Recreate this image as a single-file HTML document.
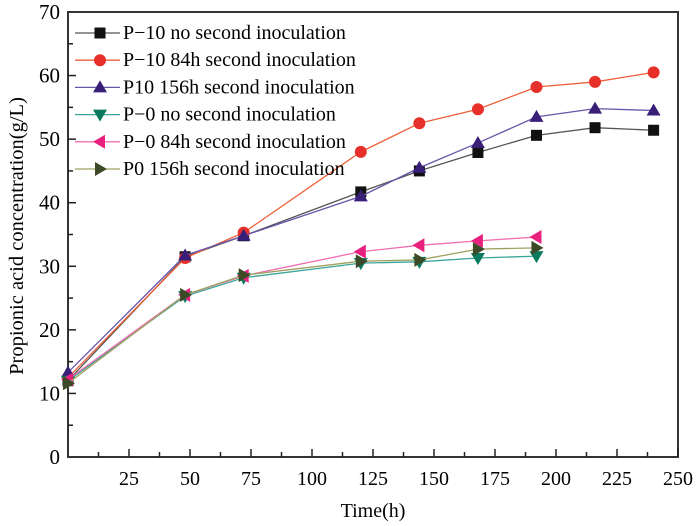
<!DOCTYPE html>
<html><head><meta charset="utf-8"><style>
body{margin:0;background:#fff}
svg{display:block;font-family:"Liberation Serif",serif}
</style></head><body>
<svg id="chart" width="700" height="526" viewBox="0 0 700 526">
<g id="axes"></g><g id="series"></g><g id="legend"></g>
</svg>
<script>
const xValues=[0,48,72,120,144,168,192,216,240];
const seriesNames=["P\u221210 no second inoculation","P\u221210 84h second inoculation","P10 156h second inoculation","P\u22120 no second inoculation","P\u22120 84h second inoculation","P0 156h second inoculation"];
const p10No=[12,31.5,34.8,41.7,45,47.9,50.6,51.8,51.4];
const p10_84=[12.5,31.3,35.3,48,52.5,54.7,58.2,59,60.5];
const p10_156=[13.3,31.7,34.8,41,45.5,49.4,53.5,54.8,54.5];
const p0No=[12,25.3,28.2,30.5,30.7,31.3,31.6];
const p0_84=[12.2,25.5,28.5,32.3,33.3,34,34.6];
const p0_156=[11.6,25.5,28.6,30.8,31,32.7,32.9];
const xTicks=[25,50,75,100,125,150,175,200,225,250];
const yTicks=[0,10,20,30,40,50,60,70];

const NS="http://www.w3.org/2000/svg";
const X0=68,X1=678,Y0=457,Y1=12;
const xs=v=>X0+v*(X1-X0)/250;
const ys=v=>Y0-v*(Y0-Y1)/70;
function mk(t,a,p){const e=document.createElementNS(NS,t);for(const k in a)e.setAttribute(k,a[k]);p.appendChild(e);return e;}
const ax=document.getElementById('axes');
const frame=mk('rect',{x:X0,y:Y1,width:X1-X0,height:Y0-Y1,fill:'none',stroke:'#333','stroke-width':2},ax);


for(let v=12.5;v<=250;v+=12.5){const major=Math.abs(v%25)<0.01;
 const t=mk('line',{x1:xs(v),x2:xs(v),y1:Y0,y2:Y0-(major?8:5),stroke:'#222','stroke-width':1.5},ax);
 
 }
xTicks.forEach(v=>{const t=mk('text',{x:xs(v),y:Y0+28,'text-anchor':'middle','font-size':20},ax);t.textContent=v;
 
 });
for(let v=5;v<70;v+=5){const major=v%10===0;
 const t=mk('line',{x1:X0,x2:X0+(major?8:5),y1:ys(v),y2:ys(v),stroke:'#222','stroke-width':1.5},ax);
 
 }
yTicks.forEach(v=>{const t=mk('text',{x:X0-8,y:ys(v)+7,'text-anchor':'end','font-size':21},ax);t.textContent=v;
 
 });
const xt=mk('text',{x:373,y:517,'text-anchor':'middle','font-size':20},ax);xt.textContent='Time(h)';


const yt=mk('text',{x:0,y:0,'text-anchor':'middle','font-size':20.5,transform:'translate(23,236) rotate(-90)'},ax);yt.textContent='Propionic acid concentration(g/L)';



function marker(type,x,y,c,p){
 if(type==='sq')return mk('rect',{x:x-5.5,y:y-5.5,width:11,height:11,fill:c},p);
 if(type==='ci')return mk('circle',{cx:x,cy:y,r:6,fill:c},p);
 let pts;
 if(type==='up')pts=[[x,y-7],[x-7,y+5],[x+7,y+5]];
 if(type==='dn')pts=[[x,y+7],[x-7,y-5],[x+7,y-5]];
 if(type==='lt')pts=[[x-7,y],[x+5,y-7],[x+5,y+7]];
 if(type==='rt')pts=[[x+7,y],[x-5,y-7],[x-5,y+7]];
 return mk('polygon',{points:pts.map(q=>q.join(',')).join(' '),fill:c},p);
}
const defs=[
 {d:p10No,line:'#555',mc:'#111',m:'sq'},
 {d:p10_84,line:'#f0603a',mc:'#e8302a',m:'ci'},
 {d:p10_156,line:'#6a55a8',mc:'#3a1f78',m:'up'},
 {d:p0No,line:'#3aa59a',mc:'#0a7a5e',m:'dn'},
 {d:p0_84,line:'#f070b0',mc:'#e8207e',m:'lt'},
 {d:p0_156,line:'#a0a060',mc:'#3c4a28',m:'rt'}];
const sg=document.getElementById('series');
defs.forEach((s,i)=>{
 const g=mk('g',{},sg);
 
 
 const pl=mk('polyline',{points:s.d.map((v,j)=>xs(xValues[j])+','+ys(v)).join(' '),fill:'none',stroke:s.line,'stroke-width':1.3},g);
 
 
 s.d.forEach((v,j)=>{const m=marker(s.m,xs(xValues[j]),ys(v),s.mc,g);
  
  });
 const lg=document.getElementById('legend');
 const ly=33+i*27.2;
 const e=mk('g',{},lg);
 
 
 mk('line',{x1:75,x2:120,y1:ly,y2:ly,stroke:s.line,'stroke-width':1.3},e);
 marker(s.m,100,ly,s.mc,e);
 const t=mk('text',{x:123,y:ly+6,'font-size':20},e);t.textContent=seriesNames[i];
});
</script>
</body></html>
